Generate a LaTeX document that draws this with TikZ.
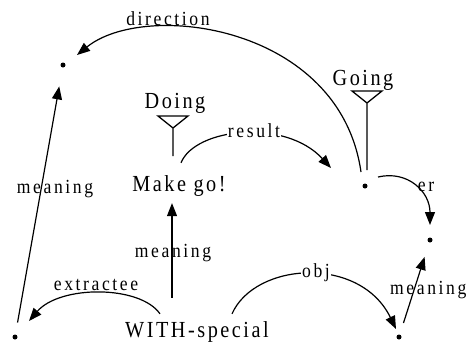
\documentclass[tikz,border=0pt]{standalone}
\usepackage{fontspec}
\setmainfont{Liberation Serif}
\newfontfamily\conceptfont{Liberation Serif}[FakeStretch=0.88,LetterSpace=11]
\newfontfamily\linkfont{Liberation Serif}[FakeStretch=0.88,LetterSpace=13]
\usetikzlibrary{arrows.meta,calc}
\tikzset{
  pics/antenna/.style={code={
    \draw[ant] (-15,0) -- (15,0) -- (0,12) -- cycle (0,12) -- (0,#1);}},
}
\begin{document}
\begin{tikzpicture}[x=1pt,y=-1pt,
  concept/.style={font=\conceptfont\fontsize{23}{26}\selectfont, inner sep=0pt, anchor=base},
  link/.style={font=\linkfont\fontsize{20}{23}\selectfont, inner sep=0pt, anchor=base},
  linkbg/.style={link, fill=white, inner sep=1pt},
  dot/.style={circle, fill, inner sep=0pt, minimum size=5pt},
  ant/.style={line width=1.3pt, line join=miter},
  arr/.style={line width=1.2pt, -{Triangle[length=13pt,width=10pt]}},
]
\useasboundingbox (0,0) rectangle (469,341);

% anonymous concept dots
\node[dot] (d1) at (63,65) {};
\node[dot] (d2) at (365,186) {};
\node[dot] (d3) at (430,240) {};
\node[dot] (d4) at (399,337) {};
\node[dot] (d5) at (15,337) {};

% named concepts
\node[concept] (doing) at (175,108) {Doing};
\node[concept] (going) at (363,85) {Going};
\node[concept] (make) at (179,191) {Make go!};
\node[concept] (with) at (197,337) {WITH-special};

% antennas hanging below the type names
\pic at ($(doing.base)+(-2,8)$) {antenna=40};
\pic at ($(going.base)+(4,6)$) {antenna=79};

% relations
\draw[arr] ($(d2)+(-4,-14)$) .. controls (340,25) and (145,0) .. ($(d1)+(14,-10)$);
\node[link] (ldir) at (168,25) {direction};

\draw[arr] ($(make.north)+(2,-12)$) .. controls (195,128) and (285,118) .. ($(d2)+(-34,-18)$);
\node[linkbg] (lres) at (254,137) {result};

\draw[arr] ($(d2)+(13,-9)$) .. controls (408,170) and (430,192) .. ($(d3)+(0,-15)$);
\node[link] (ler) at (426,191) {er};

\draw[arr, shorten <=12pt, shorten >=19pt] (d5) -- (d1);
\node[link] (lm1) at (55,193) {meaning};

\draw[arr] ($(with.north)+(-25,-23)$) -- ($(make.south)+(-7,7)$);
\node[link] (lm2) at (173,257) {meaning};

\draw[arr] ($(with.north)+(-37,-7)$) .. controls (140,285) and (60,285) .. ($(d5)+(14,-16)$);
\node[link] (lext) at (96,290) {extractee};

\draw[arr] ($(with.north)+(35,-7)$) .. controls (255,262) and (360,255) .. ($(d4)+(-3,-8)$);
\node[linkbg] (lobj) at (316,277) {obj};

\draw[arr, shorten <=12pt, shorten >=15pt] (d4) -- (d3);
\node[link, anchor=base west] (lm3) at (390,294) {meaning};
\end{tikzpicture}
\end{document}
